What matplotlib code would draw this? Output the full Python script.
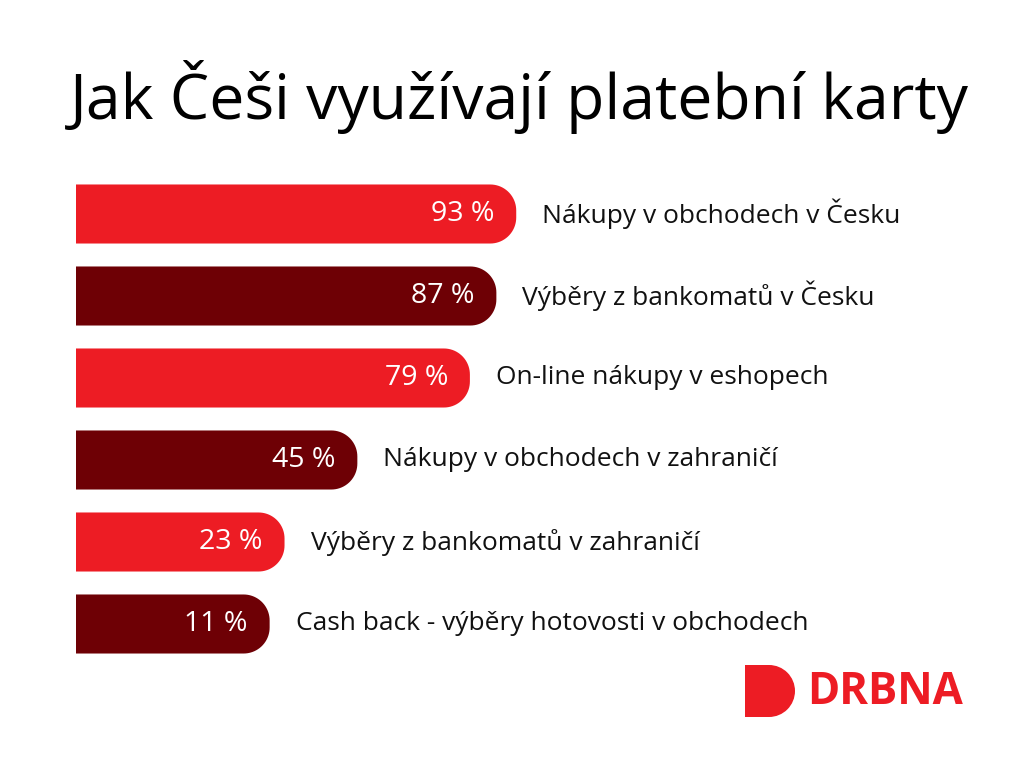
import numpy as np
import matplotlib
matplotlib.use("Agg")
import matplotlib.pyplot as plt
from matplotlib.patches import Polygon, Rectangle, Wedge

plt.rcParams['font.family'] = ['Open Sans', 'DejaVu Sans']

# data
title = "Jak Češi využívají platební karty"
categories = [
    "Nákupy v obchodech v Česku",
    "Výběry z bankomatů v Česku",
    "On-line nákupy v eshopech",
    "Nákupy v obchodech v zahraničí",
    "Výběry z bankomatů v zahraničí",
    "Cash back - výběry hotovosti v obchodech",
]
values = [93, 87, 79, 45, 23, 11]

RED = "#ED1C24"
DARK = "#6E0005"
colors = [RED, DARK] * 3

fig = plt.figure(figsize=(10.24, 7.68), dpi=100)
fig.patch.set_facecolor("white")

# axes placed so that bars line up with the reference layout
ax = fig.add_axes([76 / 1024, 103 / 768, 948 / 1024, 492 / 768])
x_left = -40            # bars start left of zero so labels fit
min_len = 18.5          # shortest drawn bar, leaves room for its label
px_per_unit = 3.31
ax.set_xlim(x_left, x_left + 948 / px_per_unit)
ax.set_ylim(len(values) - 0.5, -0.5)
ax.axis("off")

bar_h = 0.72
r_x = 26 / px_per_unit          # corner radius in x units
r_y = 26 / 82.0                 # same radius in y units


def pill(x0, x1, yc, h):
    # flat left end, rounded right end
    t = np.linspace(np.pi / 2, 0, 20)
    top_arc = np.column_stack([x1 - r_x + r_x * np.cos(t), yc - h / 2 + r_y - r_y * np.sin(t)])
    t2 = np.linspace(0, -np.pi / 2, 20)
    bot_arc = np.column_stack([x1 - r_x + r_x * np.cos(t2), yc + h / 2 - r_y - r_y * np.sin(t2)])
    pts = np.vstack([[x0, yc - h / 2], top_arc, bot_arc, [x0, yc + h / 2]])
    return pts


for i, (v, c, lab) in enumerate(zip(values, colors, categories)):
    end = max(v, min_len)
    ax.add_patch(Polygon(pill(x_left, end, i, bar_h), closed=True, fc=c, ec="none"))
    ax.text(end - 22 / px_per_unit, i, f"{v} %", color="white", fontsize=20.5,
            ha="right", va="center")
    ax.text(end + 26 / px_per_unit, i, lab, color="#111111", fontsize=19,
            ha="left", va="center")

fig.text(70 / 1024, 1 - 97 / 768, title, fontsize=45, color="black",
         ha="left", va="center")

# DRBNA logo
lax = fig.add_axes([0, 0, 1, 1], facecolor="none")
lax.set_xlim(0, 1024)
lax.set_ylim(768, 0)
lax.axis("off")
lax.add_patch(Rectangle((745, 665), 24, 52, fc=RED, ec="none"))
lax.add_patch(Wedge((769, 691), 26, -90, 90, fc=RED, ec="none"))
lax.text(807, 692, "DRBNA", color=RED, fontsize=31.5, fontweight="bold",
         ha="left", va="center")

fig.savefig("out.png", dpi=100, facecolor="white")
